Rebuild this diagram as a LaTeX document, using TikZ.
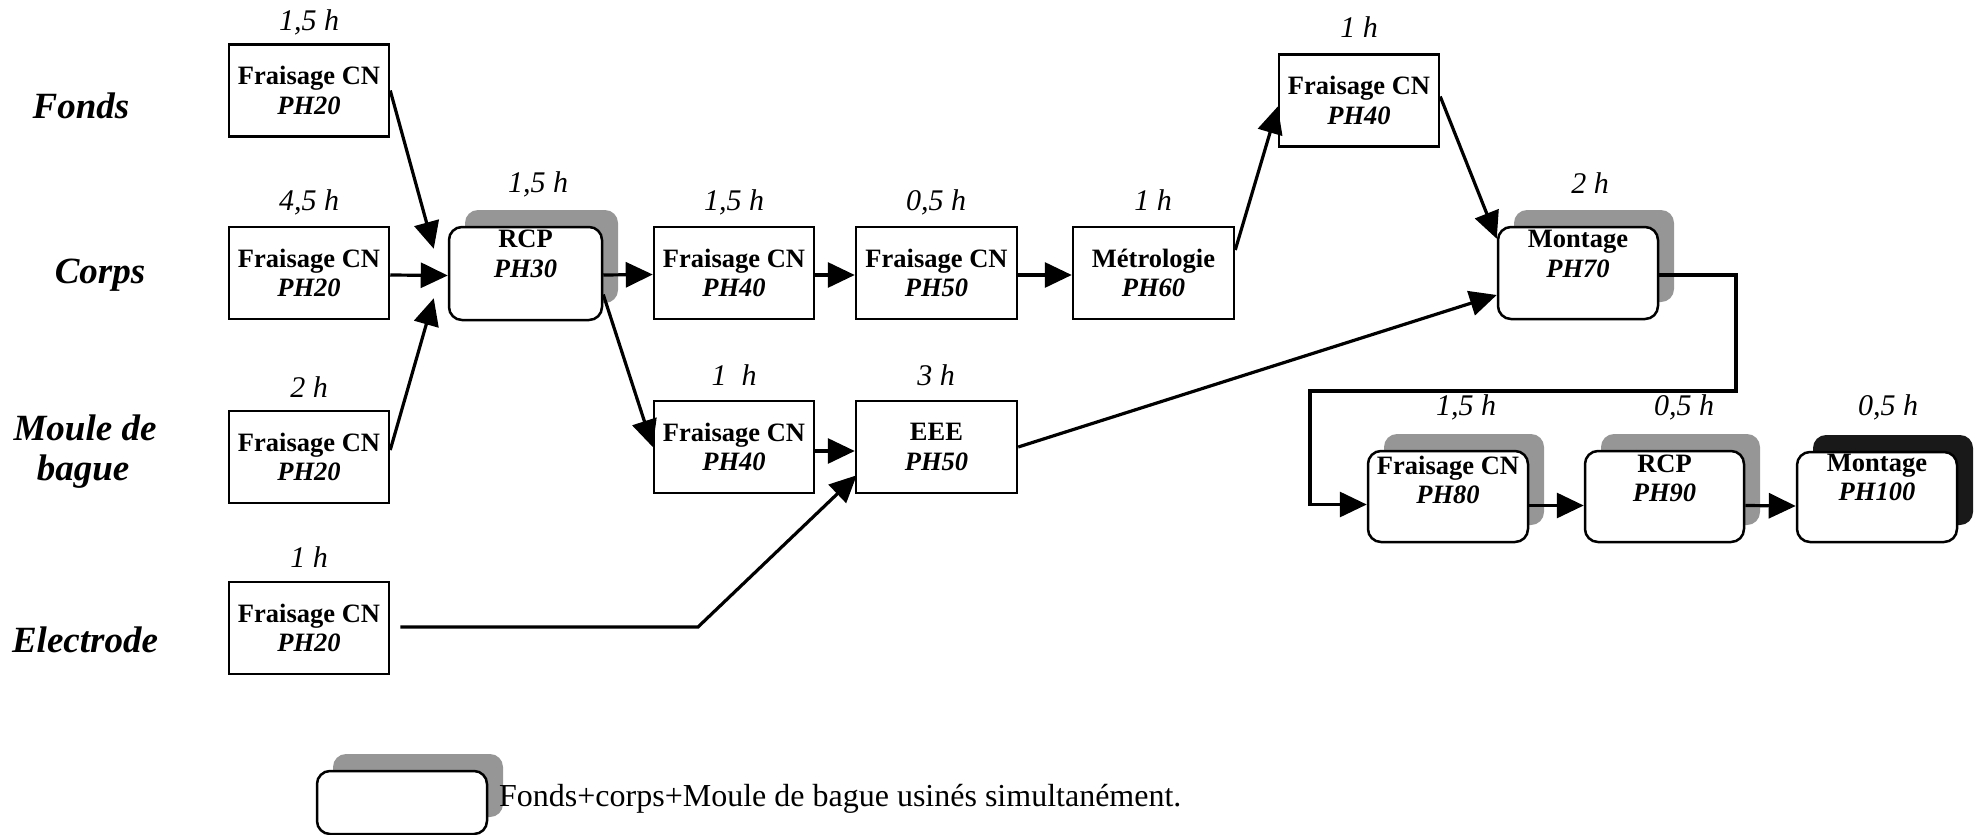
\documentclass[tikz,border=0pt]{standalone}
\usepackage{fontspec}
\setmainfont{Liberation Serif}
\usetikzlibrary{arrows.meta,shadows}
\tikzset{
  rbox/.style={draw, line width=2.5pt, minimum width=160pt, minimum height=92pt, inner sep=0pt, align=center, font=\fontsize{26.5}{29.5}\selectfont\bfseries},
  rnd/.style={draw, line width=2.5pt, rounded corners=13pt, fill=white, minimum width=160pt, minimum height=92pt, inner sep=0pt},
  gshadow/.style={general shadow={shadow xshift=16pt, shadow yshift=17pt, fill=black!41}},
  kshadow/.style={general shadow={shadow xshift=16pt, shadow yshift=17pt, fill=black!90}},
  intxt/.style={anchor=north, inner sep=0pt, align=center, font=\fontsize{26.5}{29.5}\selectfont\bfseries},
  dur/.style={anchor=base, inner sep=0pt, font=\fontsize{30}{32}\selectfont\itshape},
  side/.style={anchor=base, inner sep=0pt, font=\fontsize{37}{42}\selectfont\bfseries\itshape},
  arr/.style={line width=3.2pt, -{Triangle[length=27pt,width=25pt]}},
}
\begin{document}
\begin{tikzpicture}[x=1pt,y=-1pt]
\useasboundingbox (0,0) rectangle (1979,835);

% side labels
\node[side] (lfonds) at (81,118) {Fonds};
\node[side] (lcorps) at (100,283) {Corps};
\node[side] (lmoule1) at (85,440) {Moule de};
\node[side] (lmoule2) at (83,480) {bague};
\node[side] (lelec) at (85,652) {Electrode};

% rectangular boxes
\node[rbox] (fonds) at (309,90.5) {Fraisage CN\\\textit{PH20}};
\node[rbox] (corps) at (309,273) {Fraisage CN\\\textit{PH20}};
\node[rbox] (moule) at (309,457) {Fraisage CN\\\textit{PH20}};
\node[rbox] (elec) at (309,628) {Fraisage CN\\\textit{PH20}};
\node[rbox] (ph40a) at (734,273) {Fraisage CN\\\textit{PH40}};
\node[rbox, minimum width=161pt] (ph50a) at (936.5,273) {Fraisage CN\\\textit{PH50}};
\node[rbox, minimum width=161pt] (ph60) at (1153.5,273) {Métrologie\\\textit{PH60}};
\node[rbox] (phtop) at (1359,100.5) {Fraisage CN\\\textit{PH40}};
\node[rbox] (ph40b) at (734,447) {Fraisage CN\\\textit{PH40}};
\node[rbox, minimum width=161pt] (eee) at (936.5,447) {EEE\\\textit{PH50}};

% rounded boxes with shadows
\node[rnd, gshadow, minimum width=153pt, minimum height=93pt] (rcp) at (525.5,273.5) {};
\node[intxt] (rcpT) at ([yshift=-4.5pt]rcp.north) {RCP\\\textit{PH30}};
\node[rnd, gshadow] (montage) at (1578,273) {};
\node[intxt] (montageT) at ([yshift=-4.5pt]montage.north) {Montage\\\textit{PH70}};
\node[rnd, gshadow, minimum height=91pt] (ph80) at (1448,496.5) {};
\node[intxt] (ph80T) at ([yshift=-6pt]ph80.north) {Fraisage CN\\\textit{PH80}};
\node[rnd, gshadow, minimum width=159pt, minimum height=91pt] (ph90) at (1664.5,496.5) {};
\node[intxt] (ph90T) at ([yshift=-4.5pt]ph90.north) {RCP\\\textit{PH90}};
\node[rnd, kshadow, minimum height=90pt] (ph100) at (1877,497) {};
\node[intxt] (ph100T) at ([yshift=-3pt]ph100.north) {Montage\\\textit{PH100}};

% durations
\node[dur] (d1) at (309,30) {1,5 h};
\node[dur] (d2) at (309,210) {4,5 h};
\node[dur] (d3) at (309,397) {2 h};
\node[dur] (d4) at (309,567) {1 h};
\node[dur] (d5) at (538,192) {1,5 h};
\node[dur] (d6) at (734,210) {1,5 h};
\node[dur] (d7) at (936,210) {0,5 h};
\node[dur] (d8) at (1153,210) {1 h};
\node[dur] (d9) at (1359,37) {1 h};
\node[dur] (d10) at (1590,193) {2 h};
\node[dur] (d11) at (734,385) {1\ \ h};
\node[dur] (d12) at (936,385) {3 h};
\node[dur] (d13) at (1466,415) {1,5 h};
\node[dur] (d14) at (1684,415) {0,5 h};
\node[dur] (d15) at (1888,415) {0,5 h};

% connectors
\draw[arr] (fonds.east) -- ([shift={(-14,23)}]rcp.north west);
\draw[arr] ([yshift=-2pt]corps.east) -- ([yshift=-2pt]rcp.west);
\draw[arr] ([yshift=7pt]moule.east) -- ([shift={(-14,-23)}]rcp.south west);
\draw[arr] ([yshift=-1.5pt]rcp.east) -- ([yshift=-1.5pt]ph40a.west);
\draw[arr] ([yshift=-21pt]rcp.east) -- (ph40b.west);
\draw[arr] ([yshift=-2pt]ph40a.east) -- ([yshift=-2pt]ph50a.west);
\draw[arr] ([yshift=-2pt]ph50a.east) -- ([yshift=-2pt]ph60.west);
\draw[arr] ([yshift=23pt]ph60.east) -- ([yshift=-6pt]phtop.west);
\draw[arr] ([yshift=4pt]phtop.east) -- ([yshift=-13pt]montage.north west);
\draw[arr] (eee.east) -- ([yshift=-22pt]montage.west);
\draw[arr] ([yshift=-4pt]ph40b.east) -- ([yshift=-4pt]eee.west);
\coordinate (e1) at (698,627);
\draw[arr] ([xshift=10pt,yshift=1pt]elec.east) -- (e1) -- ([shift={(2,-19)}]eee.south west);
\coordinate (m1) at (1736,391);
\coordinate (m2) at (1310,391);
\draw[arr] ([yshift=-2pt]montage.east) -| (m1) -- (m2) |- ([yshift=-8pt]ph80.west);
\draw[arr] ([yshift=-9pt]ph80.east) -- ([yshift=-9pt]ph90.west);
\draw[arr] ([yshift=-9pt]ph90.east) -- ([yshift=-9pt]ph100.west);

% legend
\node[rnd, gshadow, minimum width=170pt, minimum height=63pt] (leg) at (402,802.5) {};
\node[anchor=base west, inner sep=0pt, font=\fontsize{32}{36}\selectfont] (legT) at (499,806) {Fonds+corps+Moule de bague usinés simultanément.};
\end{tikzpicture}
\end{document}
